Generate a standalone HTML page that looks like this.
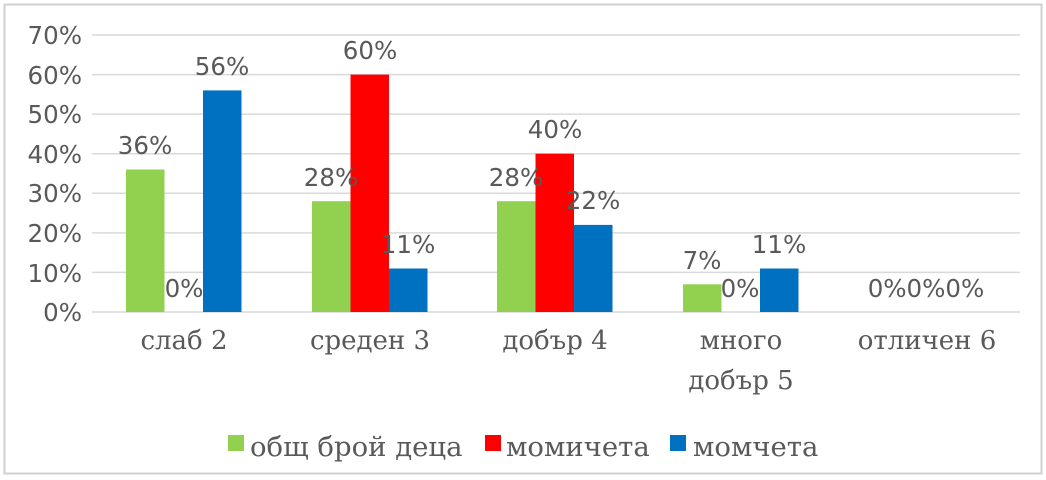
<!DOCTYPE html>
<html><head><meta charset="utf-8"><style>
html,body{margin:0;padding:0;background:#fff;}
svg{display:block}
</style></head><body>
<svg width="1046" height="480" viewBox="0 0 1046 480">
<rect x="4.5" y="4.5" width="1037" height="469" fill="#fff" stroke="#d0d0d0" stroke-width="2"/>
<g stroke="#d9d9d9" stroke-width="1.5">
<line x1="92" x2="1020" y1="35" y2="35"/><line x1="92" x2="1020" y1="74.6" y2="74.6"/>
<line x1="92" x2="1020" y1="114.1" y2="114.1"/><line x1="92" x2="1020" y1="153.7" y2="153.7"/>
<line x1="92" x2="1020" y1="193.3" y2="193.3"/><line x1="92" x2="1020" y1="232.9" y2="232.9"/>
<line x1="92" x2="1020" y1="272.4" y2="272.4"/><line x1="92" x2="1020" y1="312" y2="312"/>
</g>
<g font-family="DejaVu Sans, Liberation Sans, sans-serif" font-size="24.5" fill="#595959" text-anchor="end">
<text x="82" y="44">70%</text><text x="82" y="84">60%</text><text x="82" y="123">50%</text>
<text x="82" y="163">40%</text><text x="82" y="202">30%</text><text x="82" y="242">20%</text>
<text x="82" y="282">10%</text><text x="82" y="321">0%</text>
</g>
<rect x="126" y="169.5" width="38.5" height="142.5" fill="#92d050"/>
<rect x="203" y="90.4" width="38.5" height="221.6" fill="#0070c0"/>
<rect x="312" y="201.2" width="38.5" height="110.8" fill="#92d050"/>
<rect x="350.5" y="74.6" width="38.5" height="237.4" fill="#ff0000"/>
<rect x="389" y="268.5" width="38.5" height="43.5" fill="#0070c0"/>
<rect x="497" y="201.2" width="38.5" height="110.8" fill="#92d050"/>
<rect x="535.5" y="153.7" width="38.5" height="158.3" fill="#ff0000"/>
<rect x="574" y="224.9" width="38.5" height="87.1" fill="#0070c0"/>
<rect x="683" y="284.3" width="38.5" height="27.7" fill="#92d050"/>
<rect x="760" y="268.5" width="38.5" height="43.5" fill="#0070c0"/>
<g font-family="DejaVu Sans, Liberation Sans, sans-serif" font-size="24.5" fill="#595959" text-anchor="middle">
<text x="145" y="154">36%</text><text x="184" y="297">0%</text><text x="222" y="75">56%</text>
<text x="331" y="186">28%</text><text x="370" y="59">60%</text><text x="408" y="253">11%</text>
<text x="516" y="186">28%</text><text x="555" y="138">40%</text><text x="593" y="209">22%</text>
<text x="702" y="269">7%</text><text x="740" y="297">0%</text><text x="779" y="253">11%</text>
<text x="926" y="297">0%0%0%</text>
</g>
<g font-family="DejaVu Serif, Liberation Serif, serif" font-size="26" fill="#595959" text-anchor="middle">
<text x="184" y="349">слаб 2</text><text x="370" y="349">среден 3</text>
<text x="555" y="349">добър 4</text><text x="741" y="349">много</text>
<text x="741" y="389">добър 5</text><text x="927" y="349">отличен 6</text>
</g>
<g font-family="DejaVu Serif, Liberation Serif, serif" font-size="27.5" fill="#595959">
<rect x="228" y="435" width="16" height="16" fill="#92d050"/>
<text x="250" y="456">общ брой деца</text>
<rect x="485" y="435" width="16" height="16" fill="#ff0000"/>
<text x="506" y="456">момичета</text>
<rect x="670" y="435" width="16" height="16" fill="#0070c0"/>
<text x="693" y="456">момчета</text>
</g>
</svg>
</body></html>
